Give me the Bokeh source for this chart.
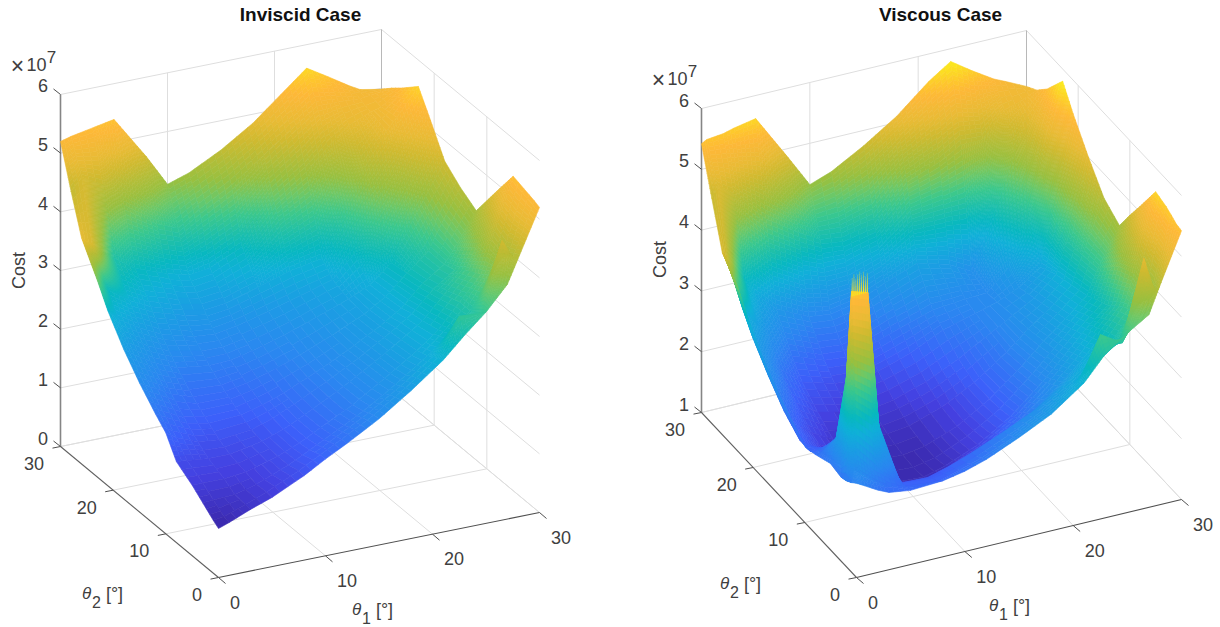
import math
from bokeh.plotting import figure
from bokeh.layouts import row
from bokeh.models import Range1d
from bokeh.core.properties import value
from bokeh.embed import file_html
from bokeh.resources import INLINE

# ---------- data (Cost in units of 1e7) ----------
TICKS_THETA = [0, 10, 20, 30]

INV_T1 = [0, 1, 3, 5, 8, 10, 12, 15, 18, 21, 23, 25, 27, 28, 30]
INV_T2 = [0, 1, 3, 5, 8, 10, 12, 15, 18, 21, 23, 26, 28, 30]
INV_COST = [
    [.835, .90, 1.05, 1.18, 1.44, 1.65, 1.84, 2.15, 2.52, 2.93, 3.28, 3.60, 4.00, 4.40, 5.20],
    [.90, .93, 1.06, 1.20, 1.45, 1.65, 1.84, 2.14, 2.50, 2.90, 3.53, 3.50, 4.67, 4.35, 5.24],
    [1.05, 1.06, 1.08, 1.18, 1.40, 1.58, 1.77, 2.06, 2.40, 2.78, 3.08, 3.40, 3.95, 4.25, 5.30],
    [1.20, 1.20, 1.20, 1.24, 1.40, 1.55, 1.74, 2.02, 2.36, 2.72, 3.00, 3.40, 3.80, 4.35, 5.36],
    [1.38, 1.36, 1.32, 1.32, 1.43, 1.56, 1.74, 2.02, 2.34, 2.68, 2.93, 3.30, 3.65, 4.00, 4.89],
    [1.72, 1.60, 1.46, 1.42, 1.48, 1.60, 1.77, 2.04, 2.33, 2.66, 2.90, 3.25, 3.50, 3.85, 4.57],
    [1.90, 1.80, 1.62, 1.55, 1.58, 1.68, 1.81, 2.05, 2.32, 2.62, 2.85, 3.20, 3.45, 3.70, 4.25],
    [2.20, 2.10, 1.90, 1.78, 1.76, 1.83, 1.93, 2.12, 2.35, 2.60, 2.82, 3.15, 3.45, 3.80, 4.42],
    [2.55, 2.42, 2.20, 2.05, 1.98, 2.00, 2.08, 2.24, 2.43, 2.63, 2.80, 3.10, 3.75, 4.05, 4.65],
    [2.98, 2.80, 2.58, 2.40, 2.25, 2.22, 2.28, 2.42, 2.58, 2.74, 3.10, 3.90, 4.40, 4.70, 5.20],
    [3.35, 3.15, 2.90, 2.72, 2.55, 2.48, 2.52, 2.68, 2.85, 2.95, 3.55, 4.35, 4.90, 5.10, 5.55],
    [3.85, 3.70, 3.40, 3.15, 2.95, 2.85, 2.90, 3.15, 3.80, 4.20, 4.55, 4.85, 5.00, 5.05, 5.30],
    [4.50, 4.70, 4.50, 4.00, 3.65, 3.50, 3.75, 4.05, 4.45, 4.85, 5.10, 5.10, 5.08, 5.10, 5.15],
    [5.20, 5.25, 5.32, 5.39, 4.65, 4.10, 4.22, 4.50, 4.85, 5.30, 5.60, 5.38, 5.15, 5.05, 4.98],
]
# vertices (theta1, theta2) whose colour in the picture differs from their height
INV_SHADE = {(0, 26): 4.9, (1, 26): 4.7, (0, 23): 3.9}

VIS_T1 = [0, .5, 2, 3, 5, 8, 10, 12, 15, 18, 21, 23, 25, 27, 28, 30]
VIS_T2 = [0, 1, 2, 3, 5, 8, 10, 12, 15, 18, 21, 23, 26, 28, 30]
VIS_COST = [
    [2.55, 2.50, 2.35, 2.27, 2.22, 2.25, 2.32, 2.43, 2.66, 2.92, 3.30, 3.70, 3.95, 4.17, 4.60, 5.42],
    [2.47, 2.90, 2.60, 2.45, 2.20, 2.15, 2.25, 2.36, 2.58, 2.85, 3.22, 3.92, 3.70, 5.00, 4.40, 5.44],
    [2.41, 5.50, 5.42, 3.20, 2.15, 2.10, 2.18, 2.30, 2.52, 2.78, 3.12, 3.35, 3.60, 4.20, 4.20, 5.50],
    [2.38, 4.00, 3.50, 2.90, 2.05, 2.03, 2.13, 2.26, 2.48, 2.72, 3.05, 3.30, 3.55, 3.95, 4.20, 5.55],
    [2.42, 2.80, 3.00, 2.60, 1.85, 1.70, 1.72, 1.85, 2.10, 2.40, 2.80, 3.10, 3.45, 3.85, 4.35, 5.61],
    [2.30, 2.30, 2.50, 2.15, 1.70, 1.52, 1.50, 1.60, 1.82, 2.15, 2.60, 2.95, 3.30, 3.60, 4.20, 5.10],
    [2.25, 2.15, 2.15, 1.85, 1.62, 1.50, 1.48, 1.55, 1.78, 2.10, 2.55, 2.88, 3.20, 3.50, 4.00, 4.77],
    [2.40, 2.15, 1.95, 1.78, 1.62, 1.52, 1.50, 1.56, 1.76, 2.08, 2.50, 2.82, 3.10, 3.40, 3.80, 4.42],
    [2.65, 2.35, 2.05, 1.90, 1.70, 1.60, 1.58, 1.62, 1.80, 2.08, 2.45, 2.75, 3.00, 3.30, 3.75, 4.60],
    [2.95, 2.65, 2.35, 2.12, 1.88, 1.75, 1.72, 1.78, 1.95, 2.20, 2.50, 2.70, 2.90, 3.20, 3.70, 5.00],
    [3.35, 3.00, 2.65, 2.40, 2.10, 1.95, 1.92, 1.98, 2.15, 2.40, 2.55, 2.65, 2.80, 3.05, 3.90, 5.45],
    [3.70, 3.30, 2.95, 2.70, 2.35, 2.15, 2.12, 2.20, 2.38, 2.55, 2.60, 2.62, 2.95, 3.70, 4.40, 5.80],
    [4.00, 3.85, 3.50, 3.20, 2.85, 2.60, 2.55, 2.62, 2.85, 3.05, 2.90, 2.70, 3.50, 4.50, 4.80, 5.40],
    [4.70, 4.90, 4.70, 4.50, 4.15, 3.80, 3.60, 3.55, 3.65, 4.20, 4.40, 4.60, 4.60, 5.00, 5.05, 5.20],
    [5.42, 5.47, 5.50, 5.55, 5.62, 4.85, 4.32, 4.45, 4.75, 5.10, 5.55, 5.79, 5.55, 5.33, 5.25, 5.08],
]
VIS_SHADE = {(0, 26): 4.9, (.5, 26): 4.7, (0, 23): 4.1}
# the comb of thin peaks at the top of the narrow spike
VIS_COMB_T1 = [.55, .72, .9, 1.07, 1.25, 1.42, 1.6, 1.77, 1.95]
VIS_COMB_COST = [5.72, 5.78, 5.70, 5.76, 5.80, 5.74, 5.78, 5.70, 5.75]

# colour map stops (fraction, colour)
CMAP = [(0, "#3a27a8"), (.08, "#4440e0"), (.15, "#3c60fa"), (.25, "#2a88f0"), (.33, "#1c9ce4"),
        (.40, "#10b0d8"), (.45, "#08b8c0"), (.50, "#20c0a8"), (.55, "#3cc88c"), (.60, "#6cc868"),
        (.65, "#98c040"), (.75, "#d0ba30"), (.80, "#e8bb35"), (.87, "#fdb838"), (.90, "#fec32f"),
        (1.0, "#f9fb14")]
FONT = "Liberation Sans"
TXT = "#404040"
GRID = "#dedede"


def rgb(h):
    return tuple(int(h[i:i + 2], 16) for i in (1, 3, 5))


def colour(c):
    c = max(0, min(1, c))
    for (a, ca), (b, cb) in zip(CMAP, CMAP[1:]):
        if c <= b:
            f = (c - a) / (b - a)
            p, q = rgb(ca), rgb(cb)
            return "#%02x%02x%02x" % tuple(round(p[i] + f * (q[i] - p[i])) for i in range(3))
    return CMAP[-1][1]


def panel(x0, x1, title, title_x, t1s, t2s, cost, shade, clim, zticks, O, A, B, C,
          exp_pos, cost_pos, th1, th2, comb=None):
    zlo, zhi = zticks[0], zticks[-1]

    def P(t1, t2, z):
        return (O[0] + A[0] * t1 / 30 + B[0] * t2 / 30,
                O[1] + A[1] * t1 / 30 + B[1] * t2 / 30 - C * (z - zlo))

    p = figure(width=x1 - x0, height=627, x_range=Range1d(x0, x1), y_range=Range1d(627, 0),
               x_axis_type=None, y_axis_type=None, toolbar_location=None, output_backend="svg",
               min_border=0, outline_line_color=None, background_fill_color="white")
    p.grid.visible = False

    def seg(pts, color, w):
        p.line([q[0] for q in pts], [q[1] for q in pts], line_color=color, line_width=w)

    # back walls and floor grid
    for t in TICKS_THETA[1:]:
        seg([P(t, 0, zlo), P(t, 30, zlo)], GRID, 1)
        seg([P(0, t, zlo), P(30, t, zlo)], GRID, 1)
        seg([P(t, 30, zlo), P(t, 30, zhi)], GRID, 1)
        seg([P(30, t, zlo), P(30, t, zhi)], GRID, 1)
    for z in zticks:
        seg([P(0, 30, z), P(30, 30, z), P(30, 0, z)], GRID, 1)
    seg([P(30, 30, zlo), P(30, 30, zhi)], "#b8b8b8", 1)

    # axes, ticks, tick labels
    seg([P(0, 30, zlo), P(0, 30, zhi)], "#858585", 1.6)
    seg([P(0, 0, zlo), P(30, 0, zlo)], "#505050", 1.1)
    seg([P(0, 0, zlo), P(0, 30, zlo)], "#606060", 1.1)

    def label(x, y, s, size=18, align="center", color=TXT, style="normal", angle=0):
        p.text([x], [y], text=[s], text_font=value(FONT), text_font_size=f"{size}px",
               text_align=align, text_baseline="middle", text_color=color,
               text_font_style=style, angle=angle)

    for t in TICKS_THETA:
        a = P(t, 0, zlo)
        seg([a, (a[0] + 7, a[1] + 6)], "#505050", 1)
        label(a[0] + 11.5, a[1] + 24.5, str(t), align="left")
        a = P(0, t, zlo)
        seg([a, (a[0] - 8, a[1] + 1.6)], "#505050", 1)
        label(a[0] - 16.5, a[1] + 17, str(t), align="right")
    for z in zticks:
        a = P(0, 30, z)
        seg([a, (a[0] - 7, a[1] - 5.5)], "#505050", 1)
        label(a[0] - 12.5, a[1] - 8.5, str(z), align="right")

    # the surface: each grid facet is shaded like MATLAB's "interp"
    cells = []
    for j in range(len(t2s) - 1):
        for i in range(len(t1s) - 1):
            z00, z10 = cost[j][i], cost[j][i + 1]
            z01, z11 = cost[j + 1][i], cost[j + 1][i + 1]
            c00 = shade.get((t1s[i], t2s[j]), z00)
            c10 = shade.get((t1s[i + 1], t2s[j]), z10)
            c01 = shade.get((t1s[i], t2s[j + 1]), z01)
            c11 = shade.get((t1s[i + 1], t2s[j + 1]), z11)
            nu = max(1, min(24, math.ceil(max(abs(c10 - c00), abs(c11 - c01)) / .07)))
            nv = max(1, min(24, math.ceil(max(abs(c01 - c00), abs(c11 - c10)) / .07)))

            def S(u, v):
                t1 = t1s[i] + u * (t1s[i + 1] - t1s[i])
                t2 = t2s[j] + v * (t2s[j + 1] - t2s[j])
                z = (z00 * (1 - u) * (1 - v) + z10 * u * (1 - v) + z01 * (1 - u) * v + z11 * u * v)
                s = (c00 * (1 - u) * (1 - v) + c10 * u * (1 - v) + c01 * (1 - u) * v + c11 * u * v)
                return t1, t2, z, s

            for a in range(nu):
                for b in range(nv):
                    cor = [S(a / nu, b / nv), S((a + 1) / nu, b / nv),
                           S((a + 1) / nu, (b + 1) / nv), S(a / nu, (b + 1) / nv)]
                    pts = [P(q[0], q[1], q[2]) for q in cor]
                    mid = sum(q[3] for q in cor) / 4
                    t1m = sum(q[0] for q in cor) / 4
                    t2m = sum(q[1] for q in cor) / 4
                    depth = -(A[1] * t1m + B[1] * t2m)  # larger is farther from the viewer
                    cells.append((depth, [q[0] for q in pts], [q[1] for q in pts],
                                  colour((mid - clim[0]) / (clim[1] - clim[0]))))
    cells.sort(key=lambda c: -c[0])
    cols = [c[3] for c in cells]
    p.patches([c[1] for c in cells], [c[2] for c in cells], fill_color=cols, line_color=cols, line_width=.6)

    if comb:
        base, tt, zz = comb
        xs, ys = [], []
        for t, z in zip(tt, zz):
            tri = [P(t - .06, base[1], base[0]), P(t, base[1], z), P(t + .06, base[1], base[0])]
            xs.append([q[0] for q in tri])
            ys.append([q[1] for q in tri])
        p.patches(xs, ys, fill_color="#f6e326", line_color="#f6e326", line_width=.2, line_alpha=.6)

    # texts
    label(title_x, 14, title, size=19, color="#111111", style="bold")
    label(exp_pos[0], exp_pos[1] + 1, "\u00d7", size=23)
    label(exp_pos[0] + 19, exp_pos[1], "10")
    label(exp_pos[0] + 34, exp_pos[1] - 8, "7", size=17)
    label(cost_pos[0], cost_pos[1], "Cost", angle=math.pi / 2)
    for pos, sub in ((th1, "1"), (th2, "2")):
        label(pos[0], pos[1], "\u03b8", size=17, style="italic")
        label(pos[0] + 10, pos[1] + 8, sub, size=16)
        label(pos[0] + 28, pos[1], "[\u00b0]", size=18)
    return p


left = panel(0, 610, "Inviscid Case", 300, INV_T1, INV_T2, INV_COST, INV_SHADE, (.835, 5.9),
             [0, 1, 2, 3, 4, 5, 6], (218, 577), (321, -65), (-158, -131), 58.67,
             (17, 64), (18, 270), (356, 609), (86, 593))
right = panel(610, 1220, "Viscous Case", 940, VIS_T1, VIS_T2, VIS_COST, VIS_SHADE, (1.45, 5.9),
              [1, 2, 3, 4, 5, 6], (856, 577), (325, -78), (-155, -165), 60.8,
              (658, 78), (659, 259), (993, 605), (724, 583),
              comb=((5.42, 2), VIS_COMB_T1, VIS_COMB_COST))

page = row(left, right, spacing=0)
open("out.html", "w").write(file_html(page, INLINE))
